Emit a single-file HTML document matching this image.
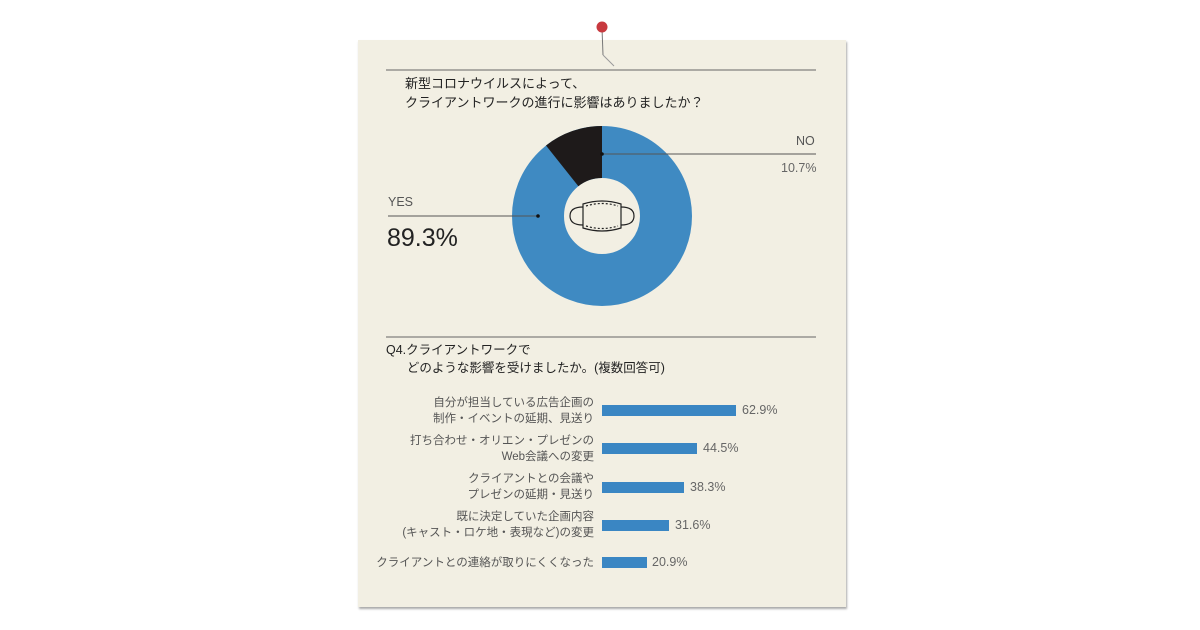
<!DOCTYPE html>
<html><head><meta charset="utf-8"><style>
body{margin:0;width:1200px;height:630px;background:#fff;position:relative;overflow:hidden;font-family:"Liberation Sans","Noto Sans CJK JP",sans-serif;}
.paper{position:absolute;left:358px;top:40px;width:488px;height:567px;background:#f2efe3;box-shadow:1px 2px 2px #aaa;}
.t{position:absolute;white-space:nowrap;}
.lbl{position:absolute;right:606px;text-align:right;font-size:11.5px;line-height:16px;color:#555;white-space:nowrap;}
.bar{position:absolute;left:602px;height:11px;background:#3a86c3;}
.pct{position:absolute;font-size:12.5px;color:#666;}
</style></head><body>
<div class="paper"></div>
<svg width="1200" height="630" style="position:absolute;left:0;top:0">
<line x1="602" y1="28" x2="603" y2="55" stroke="#777" stroke-width="1"/>
<line x1="603" y1="55" x2="614" y2="66" stroke="#999" stroke-width="1"/>
<circle cx="602" cy="27" r="5.5" fill="#c8393f"/>
<line x1="386" y1="70" x2="816" y2="70" stroke="#666" stroke-width="1"/>
<line x1="386" y1="337" x2="816" y2="337" stroke="#666" stroke-width="1"/>
<circle cx="602" cy="216" r="64" fill="none" stroke="#3f8ac2" stroke-width="52"/>
<path d="M602 126 L602 178 A38 38 0 0 0 578.4 186.2 L546 145.5 A90 90 0 0 1 602 126Z" fill="#1e1a1a"/>
<line x1="602" y1="154" x2="816" y2="154" stroke="#555" stroke-width="1"/>
<circle cx="602" cy="154" r="1.8" fill="#111"/>
<line x1="388" y1="216" x2="538" y2="216" stroke="#555" stroke-width="1"/>
<circle cx="538" cy="216" r="1.8" fill="#111"/>
<g fill="none" stroke="#222" stroke-width="1.2">
<path d="M583 204 Q602 198 621 204 L621 228 Q602 234 583 228Z"/>
<path d="M583 207 Q570 207 570 216 Q570 225 583 225"/>
<path d="M621 207 Q634 207 634 216 Q634 225 621 225"/>
<path d="M586 206 Q602 201 618 206 M586 226 Q602 231 618 226" stroke-dasharray="2 2"/>
</g>
</svg>
<div class="t" style="left:405px;top:74px;font-size:13px;line-height:19px;color:#222;">新型コロナウイルスによって、<br>クライアントワークの進行に影響はありましたか？</div>
<div class="t" style="left:796px;top:134px;font-size:12.5px;color:#555;">NO</div>
<div class="t" style="left:781px;top:161px;font-size:12.5px;color:#666;">10.7%</div>
<div class="t" style="left:388px;top:195px;font-size:12.5px;color:#555;">YES</div>
<div class="t" style="left:387px;top:224px;font-size:25px;color:#222;">89.3%</div>
<div class="t" style="left:386px;top:341px;font-size:12.5px;line-height:18px;color:#222;">Q4.クライアントワークで<br>&nbsp;&nbsp;&nbsp;&nbsp;&nbsp;&nbsp;どのような影響を受けましたか。(複数回答可)</div>
<div class="lbl" style="top:395px">自分が担当している広告企画の<br>制作・イベントの延期、見送り</div>
<div class="bar" style="top:405px;width:134px"></div><div class="pct" style="left:742px;top:403px">62.9%</div>
<div class="lbl" style="top:433px">打ち合わせ・オリエン・プレゼンの<br>Web会議への変更</div>
<div class="bar" style="top:443px;width:95px"></div><div class="pct" style="left:703px;top:441px">44.5%</div>
<div class="lbl" style="top:471px">クライアントとの会議や<br>プレゼンの延期・見送り</div>
<div class="bar" style="top:482px;width:82px"></div><div class="pct" style="left:690px;top:480px">38.3%</div>
<div class="lbl" style="top:509px">既に決定していた企画内容<br>(キャスト・ロケ地・表現など)の変更</div>
<div class="bar" style="top:520px;width:67px"></div><div class="pct" style="left:675px;top:518px">31.6%</div>
<div class="lbl" style="top:555px">クライアントとの連絡が取りにくくなった</div>
<div class="bar" style="top:557px;width:45px"></div><div class="pct" style="left:652px;top:555px">20.9%</div>
</body></html>
